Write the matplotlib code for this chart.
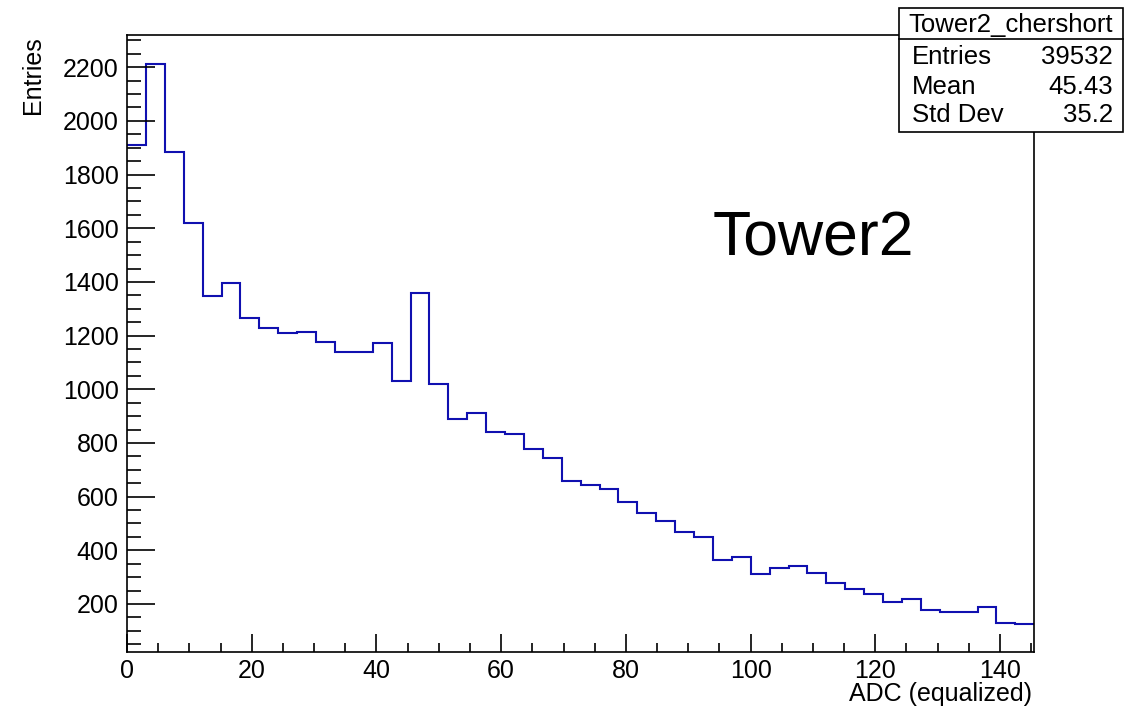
import numpy as np
import matplotlib
matplotlib.use("Agg")
import matplotlib.pyplot as plt
from matplotlib.ticker import MultipleLocator
from matplotlib.patches import Rectangle
from matplotlib.lines import Line2D

plt.rcParams['font.family'] = ['Liberation Sans', 'DejaVu Sans']

# histogram contents, 48 bins between 0 and 145.5
x_min, x_max, n_bins = 0.0, 145.5, 48
counts = [1912, 2211, 1885, 1621, 1348, 1395, 1264, 1227, 1211, 1214,
          1175, 1139, 1139, 1171, 1030, 1360, 1021, 889, 913, 841,
          834, 776, 743, 660, 642, 629, 580, 538, 508, 467,
          451, 364, 375, 312, 333, 342, 314, 278, 254, 236,
          207, 217, 176, 172, 169, 190, 128, 124]

hist_name = "Tower2_chershort"
stat_labels = ["Entries", "Mean", "Std Dev"]
stat_values = ["39532", "45.43", "35.2"]
x_title = "ADC (equalized)"
y_title = "Entries"
tag = "Tower2"

W, H = 1127, 709
fig = plt.figure(figsize=(W / 100, H / 100), dpi=100)
ax = fig.add_axes([127 / W, 1 - 652.3 / H, (1034.3 - 127) / W, (652.3 - 35) / H])

edges = np.linspace(x_min, x_max, n_bins + 1)
ax.stairs(counts, edges, baseline=None, color='#1010b0', lw=1.5)

ax.set_xlim(x_min, x_max)
ax.set_ylim(20, 2320)

ax.xaxis.set_major_locator(MultipleLocator(20))
ax.xaxis.set_minor_locator(MultipleLocator(5))
ax.yaxis.set_major_locator(MultipleLocator(200))
ax.yaxis.set_minor_locator(MultipleLocator(50))
ax.tick_params(which='both', direction='in', top=False, right=False,
               labelsize=18, width=1.2)
ax.tick_params(axis='y', which='major', length=20, pad=6)
ax.tick_params(axis='y', which='minor', length=10)
ax.tick_params(axis='x', which='major', length=13, pad=5)
ax.tick_params(axis='x', which='minor', length=6.5)
ax.set_yticks([v for v in range(200, 2201, 200)])
for s in ax.spines.values():
    s.set_linewidth(1.2)

ax.text(93.9, 1499, tag, fontsize=45, va='baseline', ha='left')

fig.text(33 / W, 1 - 36.7 / H, y_title, rotation=90, ha='center', va='top', fontsize=18)
fig.text(1031.7 / W, 1 - 700.5 / H, x_title, ha='right', va='baseline', fontsize=18)

# stats box
bx0, bx1 = 899 / W, 1123 / W
by_top, by_bot = 1 - 8 / H, 1 - 132 / H
fig.patches.append(Rectangle((bx0, by_bot), bx1 - bx0, by_top - by_bot,
                             transform=fig.transFigure, facecolor='white',
                             edgecolor='black', lw=1.2, zorder=5))
fig.lines.append(Line2D([bx0, bx1], [1 - 39.3 / H] * 2, transform=fig.transFigure,
                        color='black', lw=1.2, zorder=6))
fig.text((bx0 + bx1) / 2, 1 - 31.7 / H, hist_name, ha='center', va='baseline',
         fontsize=18.5, zorder=7)
for lab, val, yb in zip(stat_labels, stat_values, [64, 94.3, 121.7]):
    fig.text(911.7 / W, 1 - yb / H, lab, ha='left', va='baseline', fontsize=18.5, zorder=7)
    fig.text(1112.7 / W, 1 - yb / H, val, ha='right', va='baseline', fontsize=18.5, zorder=7)

fig.savefig("out.png", dpi=100)
